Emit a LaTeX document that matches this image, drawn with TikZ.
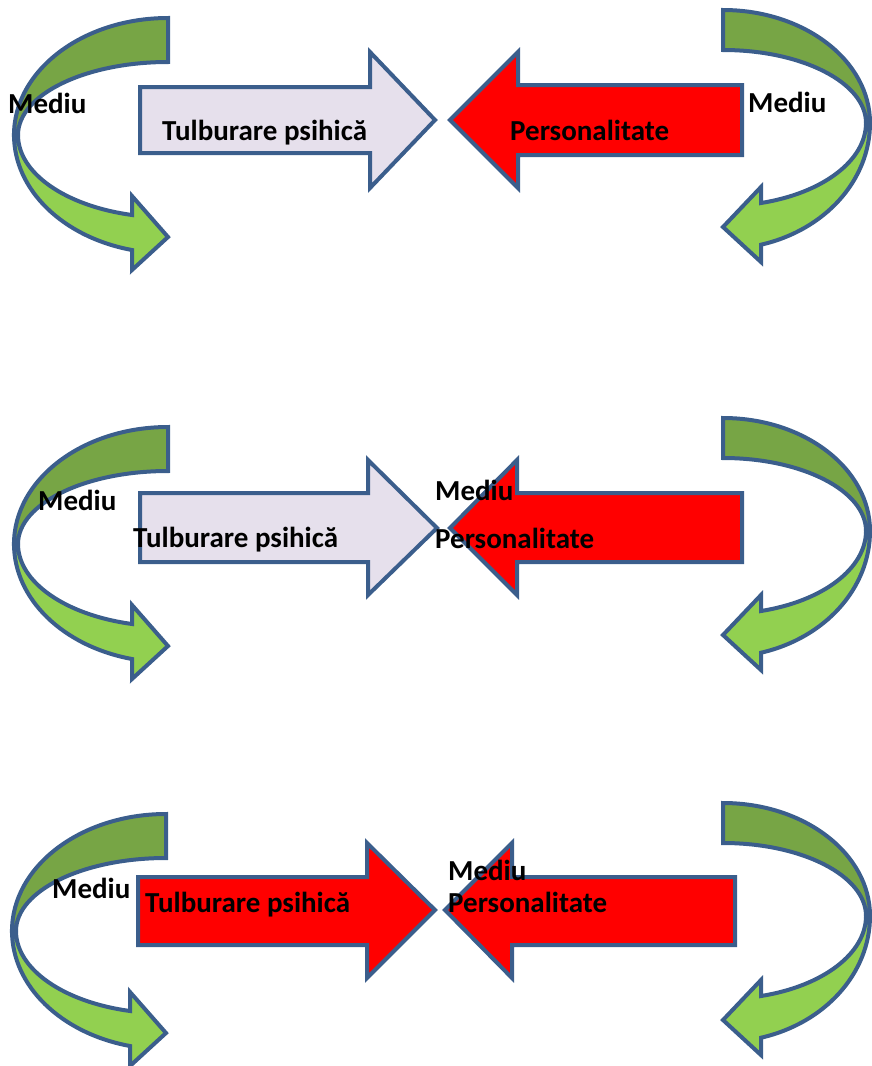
\documentclass[tikz,border=0pt]{standalone}
\usepackage{fontspec}
\setmainfont{Carlito}
\definecolor{cline}{HTML}{3B5E8C}
\definecolor{gdark}{HTML}{77A545}
\definecolor{glight}{HTML}{92D050}
\definecolor{lav}{HTML}{E6E0EC}
\definecolor{rred}{HTML}{FF0000}
\tikzset{
  shapeline/.style={draw=cline, line width=4pt, line join=miter},
  lbl/.style={font=\bfseries\fontsize{29}{33}\selectfont, anchor=base west, inner sep=0pt, text=black},
}
% curved arrow: #1 x0, #2 y0, #3 xscale (1 = bulge left, -1 = bulge right)
\newcommand{\CurvArrow}[3]{%
  \begin{scope}[shift={(#1,#2)}, xscale=#3]
    \path[shapeline, fill=gdark]
      (0,-\ctO) arc[start angle=270, end angle=180, x radius=\crx, y radius=\ctO]
      -- (-\crxi,0) arc[start angle=180, end angle=270, x radius=\crxi, y radius=\ctI]
      -- cycle;
    \path[shapeline, fill=glight]
      (-\crx,0) arc[start angle=180, end angle={acos(-\chd/\crx)}, x radius=\crx, y radius=\cbO]
      -- (-\chd,\cbB) -- (0,\ctip) -- (-\chd,\cbT)
      -- ({-\chd},{\cbI*sin(acos(-\chd/\crxi))})
      arc[start angle={acos(-\chd/\crxi)}, end angle=180, x radius=\crxi, y radius=\cbI]
      -- cycle;
  \end{scope}}
\newcommand{\LeftParams}{%
  \def\crx{154}\def\crxi{150}\def\ctO{117}\def\ctI{73}%
  \def\cbO{118.3}\def\cbI{82.4}\def\chd{36}\def\cbT{61}\def\cbB{135}\def\ctip{102}}
\newcommand{\RightParams}{%
  \def\crx{147}\def\crxi{143}\def\ctO{113}\def\ctI{73}%
  \def\cbO{126}\def\cbI{83}\def\chd{38}\def\cbT{64}\def\cbB{139}\def\ctip{104}}
\begin{document}
\begin{tikzpicture}[x=1pt, y=-1pt]
  \useasboundingbox (0,0) rectangle (872,1066);
  \clip (0,0) rectangle (872,1066);

  % ---------- curved arrows ----------
  \LeftParams
  \CurvArrow{168}{135}{1}
  \CurvArrow{168}{544}{1}
  \CurvArrow{166}{931}{1}
  \RightParams
  \CurvArrow{723}{123}{-1}
  \CurvArrow{723}{531}{-1}
  \CurvArrow{723}{916}{-1}

  % ---------- straight block arrows ----------
  % panel 1
  \path[shapeline, fill=lav] (140,87) -- (370,87) -- (370,52) -- (435,120) -- (370,188) -- (370,153) -- (140,153) -- cycle;
  \path[shapeline, fill=rred] (742,85) -- (518,85) -- (518,52) -- (450,120) -- (518,188) -- (518,155) -- (742,155) -- cycle;
  % panel 2
  \path[shapeline, fill=lav] (140,493) -- (368,493) -- (368,460) -- (437,528) -- (368,595) -- (368,562) -- (140,562) -- cycle;
  \path[shapeline, fill=rred] (742,493) -- (517,493) -- (517,460) -- (450,528) -- (517,595) -- (517,562) -- (742,562) -- cycle;
  % panel 3
  \path[shapeline, fill=rred] (138,877) -- (367,877) -- (367,843) -- (435,910) -- (367,978) -- (367,945) -- (138,945) -- cycle;
  \path[shapeline, fill=rred] (735,877) -- (512,877) -- (512,843) -- (445,910) -- (512,978) -- (512,945) -- (735,945) -- cycle;

  % ---------- labels ----------
  \node[lbl] (m1l) at (8,113) {Mediu};
  \node[lbl] (t1) at (162,140) {Tulburare psihică};
  \node[lbl] (p1) at (510,140) {Personalitate};
  \node[lbl] (m1r) at (748,112) {Mediu};

  \node[lbl] (m2l) at (38,510) {Mediu};
  \node[lbl] (t2) at (133,547) {Tulburare psihică};
  \node[lbl] (m2c) at (435,500) {Mediu};
  \node[lbl] (p2) at (435,548) {Personalitate};

  \node[lbl] (m3l) at (52,898) {Mediu};
  \node[lbl] (t3) at (145,912) {Tulburare psihică};
  \node[lbl] (m3c) at (448,880) {Mediu};
  \node[lbl] (p3) at (448,912) {Personalitate};
\end{tikzpicture}
\end{document}
